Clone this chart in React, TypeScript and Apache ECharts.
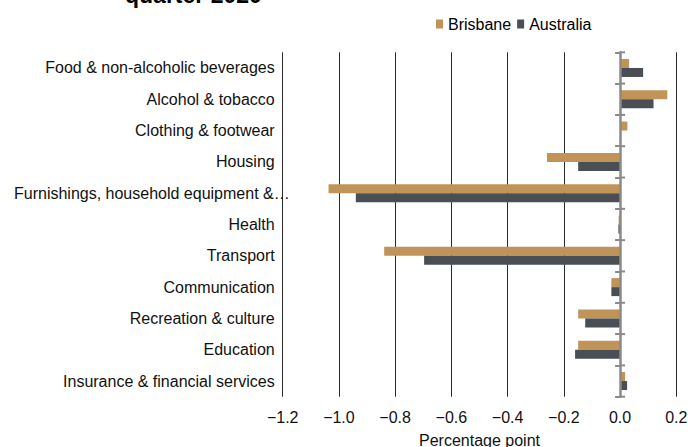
import React, { useEffect, useRef } from "react";
import * as echarts from "echarts";

const categories = [
  "Food & non-alcoholic beverages",
  "Alcohol & tobacco",
  "Clothing & footwear",
  "Housing",
  "Furnishings, household equipment &…",
  "Health",
  "Transport",
  "Communication",
  "Recreation & culture",
  "Education",
  "Insurance & financial services",
];
const brisbane = [0.032, 0.168, 0.026, -0.26, -1.037, -0.005, -0.839, -0.031, -0.149, -0.149, 0.018];
const australia = [0.082, 0.119, 0.0, -0.149, -0.94, -0.006, -0.697, -0.031, -0.124, -0.16, 0.025];
const seriesNames = ["Brisbane", "Australia"];
const titleText = "quarter 2020";
const axisName = "Percentage point";

const FONT = "'Liberation Sans', Arial, sans-serif";
const AXIS_GRAY = "#8a8a8a";

export default function App() {
  const ref = useRef<HTMLDivElement>(null);
  useEffect(() => {
    if (!ref.current) return;
    const chart = echarts.init(ref.current, null, { renderer: "svg" });
    const fmt = (v: number) => {
      const s = Math.abs(v).toFixed(1);
      return v < -1e-9 ? "\u2212" + s : s;
    };
    const n = categories.length;
    chart.setOption({
      animation: false,
      backgroundColor: "#ffffff",
      textStyle: { fontFamily: FONT },
      graphic: [
        {
          type: "text",
          left: 125,
          top: -17,
          style: {
            text: titleText,
            font: `bold 23px ${FONT}`,
            fill: "#000",
          },
        },
      ],
      legend: {
        data: seriesNames,
        left: 436,
        top: 16,
        padding: 0,
        itemGap: 6,
        itemWidth: 7,
        itemHeight: 9,
        icon: "rect",
        textStyle: { fontSize: 16, color: "#000", fontFamily: FONT },
      },
      grid: {
        left: 282.7,
        right: 11.7,
        top: 52.3,
        bottom: 50.3,
        containLabel: false,
        outerBoundsMode: "none",
      },
      xAxis: {
        type: "value",
        min: -1.2,
        max: 0.2,
        interval: 0.2,
        axisLine: { show: false },
        axisTick: { show: false },
        splitLine: { show: true, lineStyle: { color: "#2a2a2a", width: 1 } },
        axisLabel: {
          formatter: fmt,
          fontSize: 16,
          color: "#111",
          margin: 13,
          fontFamily: FONT,
        },
        name: axisName,
        nameLocation: "middle",
        nameGap: 36,
        nameTextStyle: { fontSize: 16, color: "#111", fontFamily: FONT },
      },
      yAxis: [
        {
          type: "category",
          position: "left",
          data: categories,
          inverse: true,
          axisLine: { show: true, onZero: true, lineStyle: { color: AXIS_GRAY, width: 2.5 } },
          axisTick: { show: true, length: 5, lineStyle: { color: AXIS_GRAY, width: 2 } },
          axisLabel: {
            fontSize: 16,
            color: "#111",
            margin: 8,
            fontFamily: FONT,
            formatter: (v: string) => (v.startsWith("Furnishings") ? `{f|${v}}` : v),
            rich: {
              f: { fontSize: 16, color: "#111", fontFamily: FONT, padding: [0, -15, 0, 0] },
            },
          },
          splitLine: { show: false },
          z: 5,
        },
      ],
      series: [
        {
          name: seriesNames[0],
          type: "bar",
          data: brisbane,
          barWidth: 9,
          barGap: "0%",
          itemStyle: { color: "#C09458" },
        },
        {
          name: seriesNames[1],
          type: "bar",
          data: australia,
          barWidth: 9,
          barGap: "0%",
          itemStyle: { color: "#4A4E55" },
        },
        {
          name: "zeroTicks",
          type: "custom",
          z: 6,
          silent: true,
          clip: false,
          encode: { x: 0, y: 1 },
          data: categories.map((_, i) => [0, i]),
          renderItem: (params: any, api: any) => {
            const idx = api.value(1);
            const c = api.coord([0, idx]);
            const h = api.size([0, 1])[1];
            const ys = [c[1] - h / 2];
            if (idx === n - 1) ys.push(c[1] + h / 2);
            return {
              type: "group",
              children: ys.map((y) => ({
                type: "line",
                shape: { x1: c[0], y1: y, x2: c[0] + 5, y2: y },
                style: { stroke: AXIS_GRAY, lineWidth: 2 },
              })),
            };
          },
        },
      ],
    });
    return () => chart.dispose();
  }, []);
  return (
    <div
      ref={ref}
      style={{ position: "fixed", left: 0, top: 0, width: 688, height: 447 }}
    />
  );
}
